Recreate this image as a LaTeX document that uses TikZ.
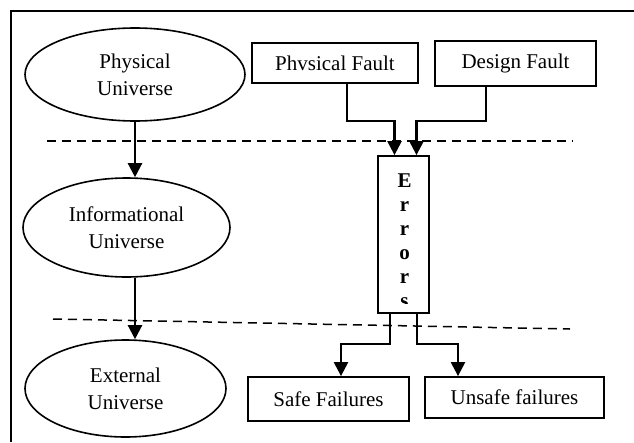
\documentclass[tikz,border=0pt]{standalone}
\usepackage{fontspec}
\setmainfont{Liberation Serif}
\usetikzlibrary{arrows.meta}
\usetikzlibrary{shapes.geometric}

\begin{document}
\begin{tikzpicture}[x=1pt,y=-1pt,
    font=\fontsize{21}{27}\selectfont,
    world/.style={shape=ellipse,draw=black,line width=1.6pt,inner sep=0pt,align=center},
    box/.style={shape=rectangle,draw=black,line width=1.8pt,inner sep=0pt},
    arr/.style={-{Triangle[length=14pt,width=14pt]},line width=2.3pt},
    sep/.style={dash pattern=on 9pt off 6pt,line width=1.5pt}]
    \useasboundingbox (0,0) rectangle (634,442);
    \draw[line width=2.2pt] (11,442) -- (11,11) -- (634,11);
    \node[world,minimum width=220pt,minimum height=93pt] (P) at (135,74.5) {Physical\\Universe};
    \node[world,minimum width=207pt,minimum height=99pt] (I) at (126.5,227.5) {Informational\\Universe};
    \node[world,minimum width=201pt,minimum height=97pt] (E) at (125.5,388.5) {External\\Universe};
    \node[box,minimum width=166pt,minimum height=40pt] (pf) at (335,63) {Phvsical Fault};
    \node[box,minimum width=161pt,minimum height=45pt] (df) at (515.5,63.5) {Design Fault};
    \node[box,minimum width=51pt,minimum height=157pt] (err) at (403.5,234.5) {};
    \node[box,minimum width=161pt,minimum height=44pt] (sf) at (328.5,399) {Safe Failures};
    \node[box,minimum width=179pt,minimum height=41pt] (uf) at (514.5,397.5) {Unsafe failures};
    \begin{scope}
        \clip (err.north west) rectangle ([yshift=10pt]err.south east);
        \foreach \l [count=\i from 0] in {E,r,r,o,r,s}
            \node[anchor=base,font=\fontsize{21}{27}\selectfont\bfseries] (l\i) at (404.5,187+24*\i) {\l};
    \end{scope}
    \draw[sep] (47,141) -- (573,141);
    \draw[sep] (53,319) -- (570,329);
    \draw[arr] (P.south) -- (P.south |- I.north);
    \draw[arr] (P.south |- I.south) -- (P.south |- E.north);
    \draw[arr] ([xshift=12pt]pf.south) -- ++(0,37) -| ([xshift=-9pt]err.north);
    \draw[arr] ([xshift=-29.5pt]df.south) -- ++(0,34) -| ([xshift=13pt]err.north);
    \draw[arr] ([xshift=-13.5pt]err.south) -- ++(0,30) -| ([xshift=12.5pt]sf.north);
    \draw[arr] ([xshift=13.5pt]err.south) -- ++(0,30) -| ([xshift=-56.5pt]uf.north);
\end{tikzpicture}
\end{document}
